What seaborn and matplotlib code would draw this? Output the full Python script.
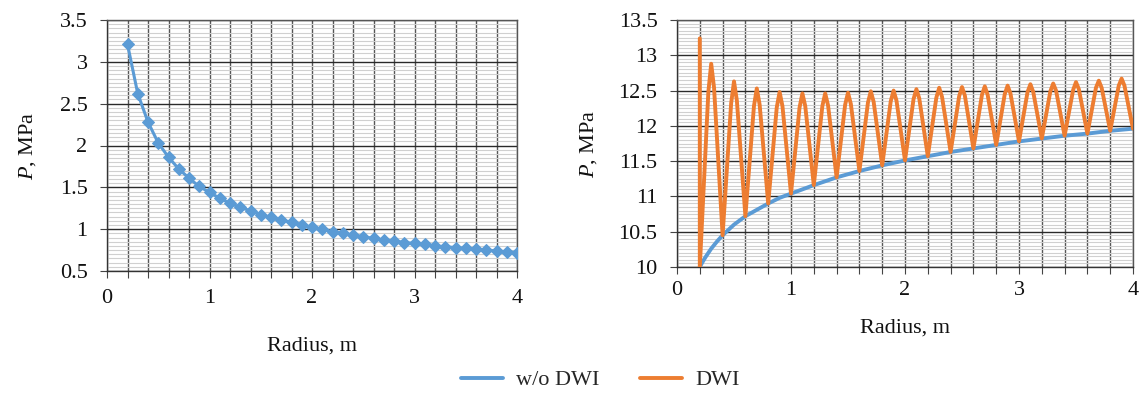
import matplotlib
matplotlib.use("Agg")
import matplotlib.pyplot as plt
from matplotlib.ticker import MultipleLocator
import seaborn as sns
import pandas as pd

# ---------------- data ----------------
radius_left = [0.2, 0.3, 0.4, 0.5, 0.6, 0.7, 0.8, 0.9, 1.0, 1.1, 1.2, 1.3, 1.4,
               1.5, 1.6, 1.7, 1.8, 1.9, 2.0, 2.1, 2.2, 2.3, 2.4, 2.5, 2.6, 2.7,
               2.8, 2.9, 3.0, 3.1, 3.2, 3.3, 3.4, 3.5, 3.6, 3.7, 3.8, 3.9, 4.0]
pressure_left = [3.21, 2.62, 2.28, 2.03, 1.86, 1.72, 1.61, 1.51, 1.44, 1.37, 1.31,
                 1.26, 1.22, 1.17, 1.14, 1.11, 1.08, 1.05, 1.02, 1.00, 0.97, 0.95,
                 0.93, 0.91, 0.89, 0.87, 0.86, 0.84, 0.83, 0.82, 0.80, 0.79, 0.78,
                 0.77, 0.76, 0.75, 0.74, 0.73, 0.72]

radius_wo = [0.2, 0.22, 0.25, 0.3, 0.35, 0.4, 0.5, 0.6, 0.7, 0.8, 0.9, 1.0, 1.2,
             1.4, 1.6, 1.8, 2.0, 2.2, 2.4, 2.6, 2.8, 3.0, 3.2, 3.4, 3.6, 3.8, 4.0]
pressure_wo = [10.00, 10.06, 10.14, 10.26, 10.36, 10.45, 10.60, 10.72, 10.81,
               10.90, 10.98, 11.04, 11.16, 11.27, 11.36, 11.44, 11.51, 11.57,
               11.63, 11.68, 11.73, 11.78, 11.82, 11.86, 11.89, 11.93, 11.96]

radius_dwi = [0.2, 0.2,
              0.275, 0.3, 0.325, 0.4,
              0.475, 0.5, 0.525, 0.6,
              0.675, 0.7, 0.725, 0.8,
              0.875, 0.9, 0.925, 1.0,
              1.075, 1.1, 1.125, 1.2,
              1.275, 1.3, 1.325, 1.4,
              1.475, 1.5, 1.525, 1.6,
              1.675, 1.7, 1.725, 1.8,
              1.875, 1.9, 1.925, 2.0,
              2.075, 2.1, 2.125, 2.2,
              2.275, 2.3, 2.325, 2.4,
              2.475, 2.5, 2.525, 2.6,
              2.675, 2.7, 2.725, 2.8,
              2.875, 2.9, 2.925, 3.0,
              3.075, 3.1, 3.125, 3.2,
              3.275, 3.3, 3.325, 3.4,
              3.475, 3.5, 3.525, 3.6,
              3.675, 3.7, 3.725, 3.8,
              3.875, 3.9, 3.925, 4.0]
pressure_dwi = [13.24, 10.00,
                12.48, 12.88, 12.54, 10.45,
                12.32, 12.63, 12.36, 10.72,
                12.28, 12.53, 12.30, 10.90,
                12.26, 12.48, 12.28, 11.04,
                12.26, 12.46, 12.28, 11.16,
                12.28, 12.46, 12.29, 11.27,
                12.30, 12.47, 12.31, 11.36,
                12.33, 12.49, 12.34, 11.44,
                12.35, 12.50, 12.36, 11.51,
                12.38, 12.52, 12.39, 11.57,
                12.40, 12.54, 12.41, 11.63,
                12.42, 12.55, 12.43, 11.68,
                12.44, 12.56, 12.44, 11.73,
                12.45, 12.57, 12.46, 11.78,
                12.48, 12.59, 12.48, 11.82,
                12.49, 12.60, 12.50, 11.86,
                12.51, 12.62, 12.52, 11.89,
                12.54, 12.64, 12.54, 11.93,
                12.57, 12.67, 12.57, 11.96]

series_names = ["w/o DWI", "DWI"]
x_label = "Radius, m"
y_label = r"$\it{P}$, MPa"

BLUE = "#5B9BD5"
ORANGE = "#ED7D31"

# ---------------- style ----------------
sns.set_style("white")
plt.rcParams["font.family"] = ["Liberation Serif", "DejaVu Serif"]
plt.rcParams["mathtext.fontset"] = "custom"
plt.rcParams["mathtext.it"] = "Liberation Serif:italic"
plt.rcParams["mathtext.rm"] = "Liberation Serif"
FS = 16

fig = plt.figure(figsize=(11.41, 3.98), dpi=100)
W, H = 1141, 398

def axes_px(l, r, t, b):
    return fig.add_axes([l / W, 1 - b / H, (r - l) / W, (b - t) / H])

ax1 = axes_px(107, 517, 20, 271)
ax2 = axes_px(677, 1133, 20, 267)

df_left = pd.DataFrame({"r": radius_left, "p": pressure_left})
df_wo = pd.DataFrame({"r": radius_wo, "p": pressure_wo})
df_dwi = pd.DataFrame({"r": radius_dwi, "p": pressure_dwi})

sns.lineplot(data=df_left, x="r", y="p", ax=ax1, color=BLUE, linewidth=2.2,
             marker="D", markersize=6.5, markeredgecolor=BLUE,
             estimator=None, sort=False, zorder=5)

sns.lineplot(data=df_wo, x="r", y="p", ax=ax2, color=BLUE, linewidth=2.8,
             estimator=None, sort=False, zorder=4, label=series_names[0])
sns.lineplot(data=df_dwi, x="r", y="p", ax=ax2, color=ORANGE, linewidth=2.8,
             estimator=None, sort=False, zorder=5, label=series_names[1])


def style_axes(ax, ylo, yhi):
    ax.set_xlim(0, 4)
    ax.set_ylim(ylo, yhi)
    ax.xaxis.set_major_locator(MultipleLocator(1))
    ax.xaxis.set_minor_locator(MultipleLocator(0.2))
    ax.yaxis.set_major_locator(MultipleLocator(0.5))
    ax.yaxis.set_minor_locator(MultipleLocator(0.05))
    ax.grid(False)
    ax.grid(which="minor", axis="y", color="#d0d0d0", linewidth=0.8, zorder=0)
    ax.grid(which="major", axis="y", color="#2a2a2a", linewidth=1.0, zorder=1)
    ax.grid(which="both", axis="x", color="#555555", linewidth=1.0, zorder=1)
    ax.set_axisbelow(True)
    for s in ax.spines.values():
        s.set_color("#555555")
        s.set_linewidth(1.0)
    ax.spines["left"].set_color("#333333")
    ax.spines["bottom"].set_color("#333333")
    ax.tick_params(axis="x", which="both", direction="out", length=5,
                   width=0.8, color="#444444", bottom=True, top=False)
    ax.tick_params(axis="y", which="major", direction="out", length=5,
                   width=0.8, color="#444444", left=True, right=False, pad=9)
    ax.tick_params(axis="y", which="minor", left=False, right=False)
    ax.tick_params(axis="both", labelsize=FS, labelcolor="#111111")
    ax.set_xlabel(x_label, fontsize=FS, color="#111111")
    ax.set_ylabel(y_label, fontsize=FS, color="#111111")
    ax.yaxis.set_major_formatter(plt.FuncFormatter(lambda v, p: f"{v:g}"))


style_axes(ax1, 0.5, 3.5)
style_axes(ax2, 10, 13.5)

ax1.tick_params(axis="x", which="major", pad=8)
ax2.tick_params(axis="x", which="major", pad=5)

ax1.xaxis.set_label_coords(0.5, -0.262)
ax2.xaxis.set_label_coords(0.5, -0.207)
ax1.yaxis.set_label_coords(-0.168, 0.5)
ax2.yaxis.set_label_coords(-0.171, 0.5)

handles, labels = ax2.get_legend_handles_labels()
ax2.get_legend().remove()
fig.legend(handles, labels, loc="center", bbox_to_anchor=(600 / W, 1 - 380 / H),
           ncol=2, frameon=False, fontsize=FS, handlelength=1.9,
           handletextpad=0.6, columnspacing=1.8)

fig.savefig("out.png", dpi=100)
